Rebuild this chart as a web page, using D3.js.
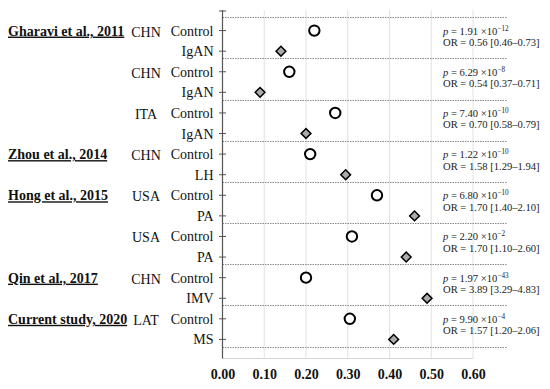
<!DOCTYPE html>
<html><head><meta charset="utf-8">
<script src="https://cdn.jsdelivr.net/npm/d3@7"></script>
<style>
html,body{margin:0;padding:0;background:#fff;}
svg{display:block;font-family:"Liberation Serif","Times New Roman",serif;}
</style></head>
<body><svg id="c" width="550" height="389"></svg>
<script>
const studies = ["Gharavi et al., 2011", "", "", "Zhou et al., 2014", "Hong et al., 2015", "", "Qin et al., 2017", "Current study, 2020"];
const countries = ["CHN", "CHN", "ITA", "CHN", "USA", "USA", "CHN", "LAT"];
const controlLabel = "Control";
const caseLabels = ["IgAN", "IgAN", "IgAN", "LH", "PA", "PA", "IMV", "MS"];
const controlValues = [0.22, 0.16, 0.27, 0.21, 0.37, 0.31, 0.20, 0.305];
const caseValues = [0.14, 0.09, 0.20, 0.295, 0.46, 0.44, 0.49, 0.41];
const pMantissa = ["1.91", "6.29", "7.40", "1.22", "6.80", "2.20", "1.97", "9.90"];
const pExponent = ["−12", "−8", "−10", "−10", "−10", "−2", "−43", "−4"];
const orText = ["0.56 [0.46–0.73]", "0.54 [0.37–0.71]", "0.70 [0.58–0.79]", "1.58 [1.29–1.94]", "1.70 [1.40–2.10]", "1.70 [1.10–2.60]", "3.89 [3.29–4.83]", "1.57 [1.20–2.06]"];
const xTicks = [0, 0.1, 0.2, 0.3, 0.4, 0.5, 0.6];

const svg = d3.select("#c");
const x0 = 222.5, x1 = 473;
const yTop = 10, yBot = 358.5;

const rows = [];
caseLabels.forEach((c, i) => {
  rows.push({key: "g" + i + "c", label: controlLabel, group: i, type: "control", value: controlValues[i]});
  rows.push({key: "g" + i + "k", label: c, group: i, type: "case", value: caseValues[i]});
});

const x = d3.scaleLinear().domain([0, 0.6]).range([x0, x1]);
const y = d3.scalePoint().domain(rows.map(r => r.key)).range([yTop, yBot + 1.5]).padding(1);
const step = y.step();

// vertical gridlines
svg.append("g").selectAll("line").data(xTicks.slice(1)).join("line")
  .attr("x1", d => x(d)).attr("x2", d => x(d))
  .attr("y1", yTop).attr("y2", yBot)
  .attr("stroke", "#e2e2e2").attr("stroke-width", 1);
// bottom line
svg.append("line").attr("x1", x0).attr("x2", x1).attr("y1", yBot).attr("y2", yBot)
  .attr("stroke", "#d6d6d6").attr("stroke-width", 1);

// group separators (dotted)
const sepYs = caseLabels.map((c, i) => y("g" + i + "c") - 0.65 * step);
sepYs.push(y("g" + (caseLabels.length - 1) + "k") + 0.35 * step);
svg.append("g").selectAll("line").data(sepYs).join("line")
  .attr("x1", x0).attr("x2", 507)
  .attr("y1", d => Math.round(d) + 0.5).attr("y2", d => Math.round(d) + 0.5)
  .attr("stroke", "#8a8a8a").attr("stroke-width", 1).attr("stroke-dasharray", "1.5,1");

// y axis
svg.append("line").attr("x1", x0).attr("x2", x0).attr("y1", yTop).attr("y2", yBot)
  .attr("stroke", "#555").attr("stroke-width", 1.2);
const tickYs = [yTop + 1].concat(rows.map(r => y(r.key)));
svg.append("g").selectAll("line").data(tickYs).join("line")
  .attr("x1", x0 - 3.5).attr("x2", x0 + 3.5)
  .attr("y1", d => d).attr("y2", d => d)
  .attr("stroke", "#555").attr("stroke-width", 1);

const yAxis = d3.axisLeft(y).tickSize(0).tickPadding(9).tickFormat(k => rows.find(r => r.key === k).label);
const ya = svg.append("g").attr("transform", `translate(${x0},0)`).call(yAxis);
ya.select(".domain").remove();
ya.selectAll("text").attr("font-size", "14px").attr("font-family", "Liberation Serif").attr("fill", "#111");

// x axis
const xAxis = d3.axisBottom(x).tickValues(xTicks).tickFormat(d3.format(".2f")).tickSize(0).tickPadding(11);
const xa = svg.append("g").attr("transform", `translate(0,${yBot})`).call(xAxis);
xa.select(".domain").remove();
xa.selectAll("text").attr("font-size", "14px").attr("font-weight", "bold").attr("font-family", "Liberation Serif").attr("fill", "#111");

// study labels & countries
caseLabels.forEach((c, i) => {
  const yc = y("g" + i + "c");
  if (studies[i]) {
    svg.append("text").attr("x", 8).attr("y", yc + 5)
      .attr("font-size", "14px").attr("font-weight", "bold")
      .attr("text-decoration", "underline").attr("fill", "#111")
      .text(studies[i]);
  }
  svg.append("text").attr("x", 146).attr("y", yc + 6).attr("text-anchor", "middle")
    .attr("font-size", "14px").attr("fill", "#111").text(countries[i]);
  // annotation
  const t1 = svg.append("text").attr("x", 443).attr("y", yc + 4).attr("font-size", "10.6px").attr("fill", "#222");
  t1.append("tspan").attr("font-style", "italic").text("p");
  t1.append("tspan").text(" = " + pMantissa[i] + " ×10");
  t1.append("tspan").attr("font-size", "7.2px").attr("dy", -4).text(pExponent[i]);
  svg.append("text").attr("x", 443).attr("y", yc + 15.5).attr("font-size", "10.6px").attr("fill", "#222")
    .text("OR = " + orText[i]);
});

// markers
const pts = svg.append("g");
pts.selectAll("circle").data(rows.filter(r => r.type === "control")).join("circle")
  .attr("cx", d => x(d.value)).attr("cy", d => y(d.key)).attr("r", 5.2)
  .attr("fill", "#fff").attr("stroke", "#000").attr("stroke-width", 2);
const sq = d3.symbol().type(d3.symbolSquare).size(48);
pts.selectAll("path").data(rows.filter(r => r.type === "case")).join("path")
  .attr("d", sq)
  .attr("transform", d => `translate(${x(d.value)},${y(d.key)}) rotate(45)`)
  .attr("fill", "#ababab").attr("stroke", "#000").attr("stroke-width", 1.5);
</script></body></html>
